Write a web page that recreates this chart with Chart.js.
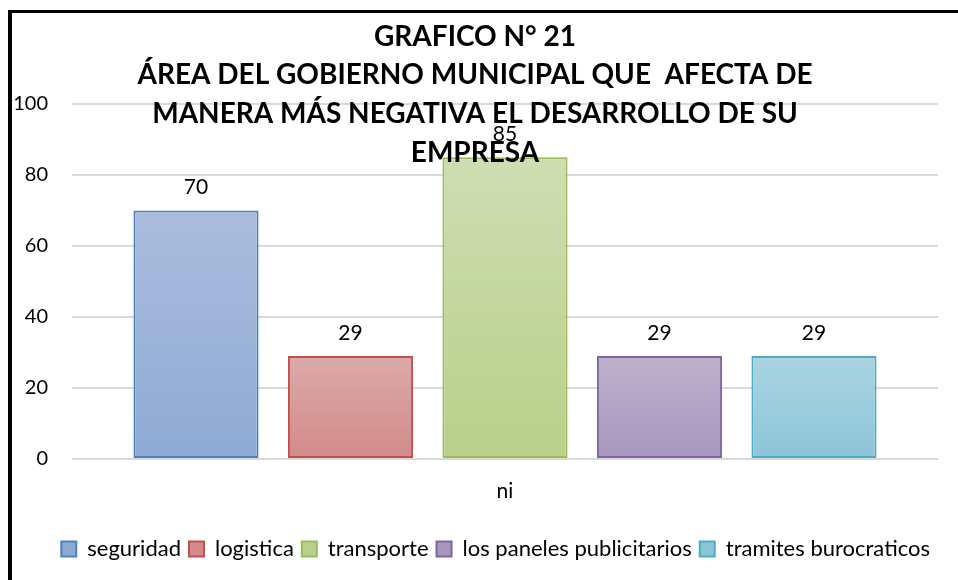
<!DOCTYPE html>
<html>
<head>
<meta charset="utf-8">
<script src="https://cdn.jsdelivr.net/npm/chart.js@4.4.1/dist/chart.umd.min.js"></script>
<style>
    body { margin: 0; background: #fff; }
    #wrap { position: relative; width: 958px; height: 580px; overflow: hidden; }
    #marco { position: absolute; left: 8px; top: 10px; width: 980px; height: 600px;
             border-top: 3px solid #000; border-left: 4px solid #000; pointer-events: none; }
    canvas { position: absolute; left: 0; top: 0; }
</style>
</head>
<body>
<div id="wrap">
    <canvas id="grafico" width="958" height="580"></canvas>
    <div id="marco"></div>
</div>
<script>
// datos del grafico
const categorias = ['ni'];
const series = ['seguridad', 'logistica', 'transporte', 'los paneles publicitarios', 'tramites burocraticos'];
const valores = [70, 29, 85, 29, 29];
const marcasY = [0, 20, 40, 60, 80, 100];
const titulo = ['GRAFICO N° 21', 'ÁREA DEL GOBIERNO MUNICIPAL QUE  AFECTA DE', 'MANERA MÁS NEGATIVA EL DESARROLLO DE SU', 'EMPRESA'];

// colores estilo Excel (arriba, abajo, borde)
const colores = [
    ['#aabddd', '#8eaad4', '#4f81bd'],
    ['#dcaaaa', '#d48a8a', '#c0504d'],
    ['#cfddb2', '#b8d08a', '#9bbb59'],
    ['#bcb2cd', '#a796bd', '#8064a2'],
    ['#aad4e2', '#8cc5d8', '#4bacc6']
];

const FUENTE = 'Lato, "Open Sans", sans-serif';

function degradado(i) {
    return function(ctx) {
        const c = colores[i];
        if (ctx.type !== 'data') return c[0];
        const chart = ctx.chart;
        const y = chart.scales.y;
        if (!y || !chart.chartArea) return c[0];
        const arriba = y.getPixelForValue(ctx.raw);
        const base = y.getPixelForValue(0);
        if (!isFinite(arriba) || !isFinite(base) || arriba === base) return c[0];
        const g = chart.ctx.createLinearGradient(0, arriba, 0, base);
        g.addColorStop(0, c[0]);
        g.addColorStop(1, c[1]);
        return g;
    };
}

// etiquetas de valor sobre cada barra
const etiquetasValor = {
    id: 'etiquetasValor',
    afterDatasetsDraw(chart) {
        const ctx = chart.ctx;
        ctx.save();
        ctx.font = '21px ' + FUENTE;
        ctx.fillStyle = '#000';
        ctx.textAlign = 'center';
        ctx.textBaseline = 'middle';
        chart.data.datasets.forEach((ds, i) => {
            const meta = chart.getDatasetMeta(i);
            meta.data.forEach((bar, j) => {
                ctx.fillText(ds.data[j], bar.x, bar.y - 23);
            });
        });
        ctx.restore();
    }
};

// titulo encima del area del grafico (como en el original)
const tituloEncima = {
    id: 'tituloEncima',
    afterDraw(chart) {
        const ctx = chart.ctx;
        const lineasY = [37, 75, 114, 153];
        ctx.save();
        ctx.font = 'bold 28px ' + FUENTE;
        ctx.fillStyle = '#000';
        ctx.textAlign = 'center';
        ctx.textBaseline = 'middle';
        titulo.forEach((t, k) => ctx.fillText(t, 475, lineasY[k]));
        ctx.restore();
    }
};

const datasets = series.map((nombre, i) => ({
    label: nombre,
    data: [valores[i]],
    backgroundColor: degradado(i),
    borderColor: colores[i][2],
    borderWidth: 2,
    borderSkipped: false
}));

new Chart(document.getElementById('grafico'), {
    type: 'bar',
    data: { labels: categorias, datasets: datasets },
    plugins: [etiquetasValor, tituloEncima],
    options: {
        responsive: false,
        animation: false,
        devicePixelRatio: 1,
        categoryPercentage: 0.892,
        barPercentage: 0.81,
        layout: { padding: { left: 12, right: 20, top: 104, bottom: 10 } },
        scales: {
            x: {
                grid: { display: false },
                border: { display: false },
                ticks: { padding: 12, color: '#000', font: { family: FUENTE, size: 21 } },
                afterFit(scale) { scale.height = 71; }
            },
            y: {
                min: 0,
                max: 100,
                afterBuildTicks(scale) { scale.ticks = marcasY.map(v => ({ value: v })); },
                grid: { color: '#d9d9d9', lineWidth: 2, drawTicks: false },
                border: { display: false },
                ticks: { padding: 24, color: '#000', font: { family: FUENTE, size: 20 } },
                afterFit(scale) { scale.width = 60; }
            }
        },
        plugins: {
            title: { display: false },
            tooltip: { enabled: false },
            legend: {
                position: 'bottom',
                align: 'end',
                labels: {
                    boxWidth: 15,
                    boxHeight: 15,
                    padding: 8,
                    color: '#000',
                    font: { family: FUENTE, size: 22 }
                }
            }
        }
    }
});
</script>
</body>
</html>
